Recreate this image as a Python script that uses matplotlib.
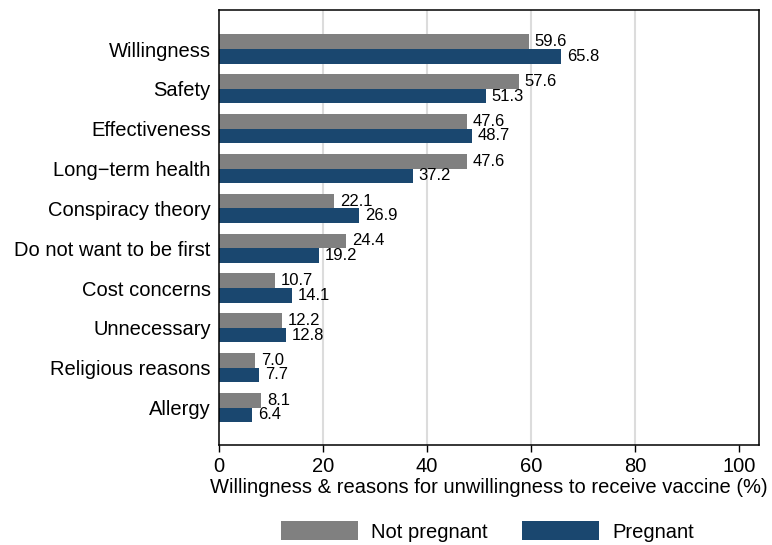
import matplotlib
matplotlib.use("Agg")
import matplotlib.pyplot as plt
import numpy as np

plt.rcParams["font.family"] = ["Liberation Sans", "DejaVu Sans"]

# data
categories = ["Willingness", "Safety", "Effectiveness", "Long\u2212term health",
              "Conspiracy theory", "Do not want to be first", "Cost concerns",
              "Unnecessary", "Religious reasons", "Allergy"]
not_pregnant = [59.6, 57.6, 47.6, 47.6, 22.1, 24.4, 10.7, 12.2, 7.0, 8.1]
pregnant = [65.8, 51.3, 48.7, 37.2, 26.9, 19.2, 14.1, 12.8, 7.7, 6.4]
x_ticks = [0, 20, 40, 60, 80, 100]

GRAY = "#808080"
NAVY = "#1a476f"
BAR_H = 0.365
FS = 14.5

fig = plt.figure(figsize=(7.72, 5.45), dpi=100)
ax = fig.add_axes([0.2837, 0.1835, 0.9832 - 0.2837, 0.9817 - 0.1835])

y = np.arange(len(categories))
b1 = ax.barh(y - BAR_H / 2, not_pregnant, height=BAR_H, color=GRAY,
             label="Not pregnant", zorder=2)
b2 = ax.barh(y + BAR_H / 2, pregnant, height=BAR_H, color=NAVY,
             label="Pregnant", zorder=2)

# value labels just right of each bar
for yi, v in zip(y, not_pregnant):
    ax.text(v + 1.1, yi - BAR_H / 2, f"{v:.1f}", va="center", ha="left",
            fontsize=12, color="black")
for yi, v in zip(y, pregnant):
    ax.text(v + 1.1, yi + BAR_H / 2, f"{v:.1f}", va="center", ha="left",
            fontsize=12, color="black")

for g in [20, 40, 60, 80]:
    ax.axvline(g, color="#dcdcdc", linewidth=1.5, zorder=0)

ax.set_xlim(0, 103.8)
ax.set_ylim(9.94, -0.98)
ax.set_xticks(x_ticks)
ax.set_xticklabels([str(t) for t in x_ticks], fontsize=FS)
ax.set_yticks(y)
ax.set_yticklabels(categories, fontsize=FS)
ax.tick_params(axis="x", direction="out", length=5, width=1, color="black", pad=4)
ax.tick_params(axis="y", length=0, pad=6)
for s in ax.spines.values():
    s.set_linewidth(1.1)
    s.set_color("black")

ax.set_xlabel("Willingness & reasons for unwillingness to receive vaccine (%)",
              fontsize=FS, labelpad=1)

fig.legend(handles=[b1, b2], labels=["Not pregnant", "Pregnant"],
           loc="center", bbox_to_anchor=(0.631, 0.0248), ncol=2, frameon=False,
           fontsize=FS, handlelength=3.83, handleheight=1.04,
           columnspacing=1.7, handletextpad=0.65, borderpad=0, borderaxespad=0)

fig.savefig("out.png", dpi=100)
